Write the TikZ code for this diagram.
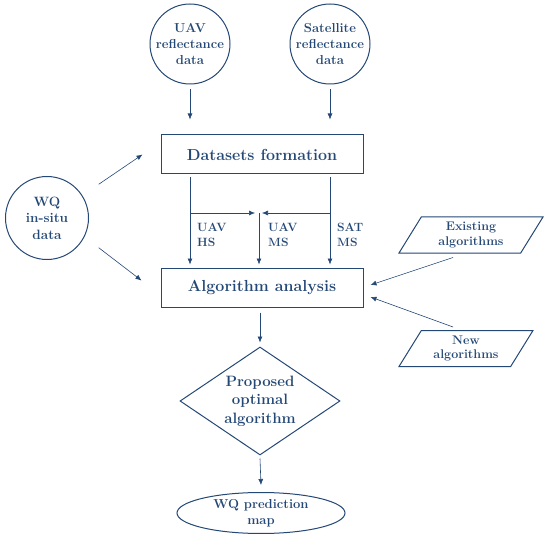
\documentclass[tikz,border=0pt]{standalone}
\usepackage{fontspec}
\usetikzlibrary{shapes,arrows.meta,positioning}
\definecolor{wqblue}{RGB}{36,72,118}
\begin{document}
\begin{tikzpicture}[
    x=1pt, y=-1pt,
    every node/.style={text=wqblue, align=center},
    src/.style={draw=wqblue, line width=1pt, circle, minimum size=80pt, inner sep=0pt, font=\fontsize{13}{16}\selectfont\bfseries},
    block/.style={draw=wqblue, line width=1pt, minimum width=202pt, minimum height=39pt, font=\fontsize{16}{19}\selectfont\bfseries},
    algos/.style={draw=wqblue, line width=1pt, trapezium, trapezium left angle=51, trapezium right angle=129, trapezium stretches body, minimum height=36pt, inner sep=1pt, font=\fontsize{12.5}{14.5}\selectfont\bfseries},
    lbl/.style={anchor=west, align=left, inner sep=2pt, font=\fontsize{12}{15}\selectfont\bfseries},
    arr/.style={-{Latex[length=6pt,width=5pt]}, draw=wqblue, line width=0.6pt}
]
\useasboundingbox (0,0) rectangle (550,543);

\node[src] (uav) at (190,44) {UAV\\reflectance\\data};
\node[src] (sat) at (330,44) {Satellite\\reflectance\\data};
\node[block] (dset) at (262,154.5) {Datasets formation};
\node[src, minimum size=83pt, font=\fontsize{13.5}{16.5}\selectfont\bfseries] (wq) at (47,218) {WQ\\in-situ\\data};
\node[block] (anal) at (262,287.5) {Algorithm analysis};
\node[algos, minimum width=144pt] (exist) at (471,235) {Existing\\algorithms};
\node[algos, minimum width=134pt] (new) at (466,348.5) {New\\algorithms};
\node[draw=wqblue, line width=1pt, diamond, aspect=1.48, inner sep=0pt, minimum width=160pt, minimum height=108pt, font=\fontsize{15}{18.5}\selectfont\bfseries] (prop) at (260,401) {Proposed\\optimal\\algorithm};
\node[draw=wqblue, line width=1pt, ellipse, inner sep=0pt, minimum width=168pt, minimum height=41pt, font=\fontsize{13}{16}\selectfont\bfseries] (map) at (261,513) {WQ prediction\\map};

\coordinate (mid) at (259,213);
\node[lbl] (uavhs) at (195,235) {UAV\\HS};
\node[lbl] (uavms) at (266,235) {UAV\\MS};
\node[lbl] (satms) at (335,235) {SAT\\MS};

\draw[arr] ([yshift=-5pt]uav.south) -- ([yshift=15pt]uav.south |- dset.north);
\draw[arr] ([yshift=-5pt]sat.south) -- ([yshift=15pt]sat.south |- dset.north);
\draw[arr] ([yshift=-3pt]dset.south -| uav) -- ([yshift=3pt]anal.north -| uav);
\draw[arr] ([yshift=-3pt]dset.south -| sat) -- ([yshift=3pt]anal.north -| sat);
\draw[arr] (mid) -- ([yshift=3pt]anal.north -| mid);
\draw[arr] (mid -| uav) -- ([xshift=-4pt]mid);
\draw[arr] (mid -| sat) -- ([xshift=3pt]mid);
\draw[arr] ([shift={(22pt,4pt)}]wq.north east) -- ([xshift=-18pt]dset.west);
\draw[arr] ([shift={(22pt,0pt)}]wq.south east) -- ([shift={(-19pt,7pt)}]anal.west);
\draw[arr] ([shift={(-18pt,-4pt)}]exist.south) -- ([shift={(7pt,2.5pt)}]anal.east);
\draw[arr] ([shift={(-13pt,3pt)}]new.north) -- ([shift={(7pt,-9.5pt)}]anal.east);
\draw[arr] ([yshift=-5pt]anal.south -| prop) -- ([yshift=4pt]prop.north);
\draw[arr] ([yshift=-3pt]prop.south) -- ([yshift=7pt]map.north);
\end{tikzpicture}
\end{document}
